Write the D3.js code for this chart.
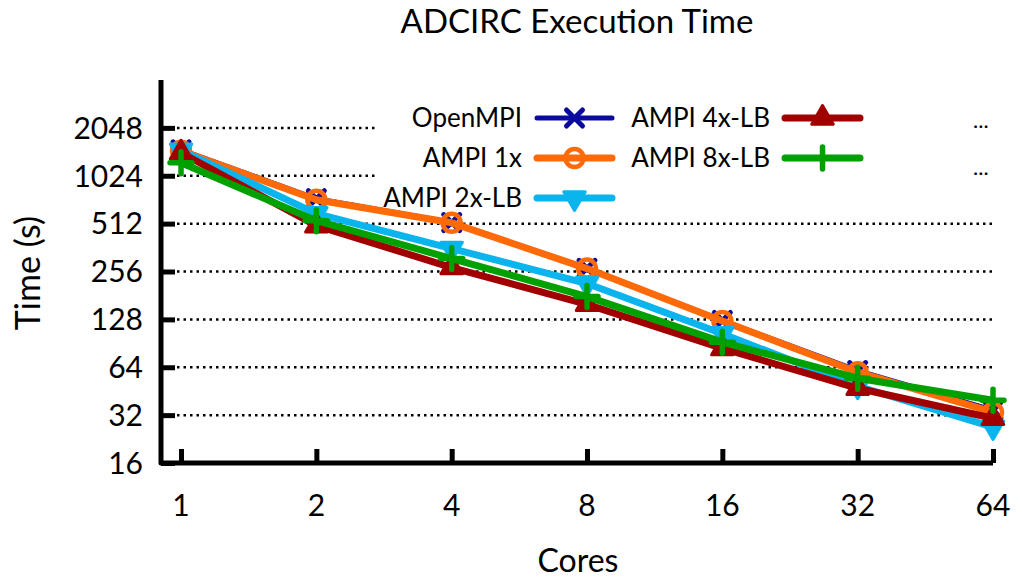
<!DOCTYPE html>
<html>
<head>
<meta charset="utf-8">
<script src="https://cdn.jsdelivr.net/npm/d3@7"></script>
<style>
  body { margin: 0; background: #fff; }
  text { font-family: Lato, "Open Sans", sans-serif; fill: #000; }
</style>
</head>
<body>
<script>
const width = 1019;
const height = 582;

const margin = { left: 161, right: 26, top: 80, bottom: 119 };

// data
const cores = [1, 2, 4, 8, 16, 32, 64];
const yTicks = [16, 32, 64, 128, 256, 512, 1024, 2048];

const openmpi = [1490, 734, 520, 268, 126, 61, 34.4];
const ampi1x = [1470, 724, 518, 267, 125, 59.6, 33.4];
const ampi2x = [1480, 592, 357, 215, 104, 48.6, 26.9];
const ampi4x = [1428, 497, 271, 159, 84, 47.2, 30.6];
const ampi8x = [1235, 534, 309, 178, 92, 54.6, 39.7];

const seriesNames = ["OpenMPI", "AMPI 1x", "AMPI 2x-LB", "AMPI 4x-LB", "AMPI 8x-LB"];
const seriesValues = [openmpi, ampi1x, ampi2x, ampi4x, ampi8x];
const colors = ["#0a0a9e", "#ff6a08", "#0ab4ec", "#a00000", "#00a000"];
const markers = ["cross", "circle", "down", "up", "plus"];

const series = seriesNames.map((name, i) => ({
    name: name,
    color: colors[i],
    marker: markers[i],
    values: cores.map((c, j) => ({ x: c, y: seriesValues[i][j] }))
}));

let svg = d3.select("body").append("svg")
    .attr("width", width)
    .attr("height", height);

let xScale = d3.scaleLog().base(2)
    .domain([Math.pow(2, -0.148), 64])
    .range([margin.left, width - margin.right]);

let yScale = d3.scaleLog().base(2)
    .domain([16, 4096])
    .range([height - margin.bottom, margin.top]);

const x0 = margin.left;
const yBase = height - margin.bottom;

// title
svg.append("text")
    .attr("x", 577)
    .attr("y", 33)
    .attr("text-anchor", "middle")
    .style("font-size", "33px")
    .text("ADCIRC Execution Time");

// grid lines
svg.append("g")
    .selectAll("line")
    .data(yTicks.filter(d => d > 16))
    .join("line")
    .attr("x1", x0 + 16)
    .attr("x2", xScale(64))
    .attr("y1", d => yScale(d))
    .attr("y2", d => yScale(d))
    .attr("stroke", "#000")
    .attr("stroke-width", 2.5)
    .attr("stroke-dasharray", "2.5,4");

// legend background hides the grid behind the key
let legend = svg.append("g");
legend.append("rect")
    .attr("x", 377)
    .attr("y", 98)
    .attr("width", 630)
    .attr("height", 100)
    .attr("fill", "#fff");

// y axis
let yAxis = svg.append("g")
    .attr("transform", `translate(${x0},0)`)
    .call(d3.axisRight(yScale).tickValues(yTicks).tickSize(14).tickFormat(""));
yAxis.select(".domain").remove();
yAxis.selectAll("line").attr("stroke-width", 5);

svg.append("g")
    .selectAll("text")
    .data(yTicks)
    .join("text")
    .attr("x", 143)
    .attr("y", d => yScale(d))
    .attr("dy", "0.36em")
    .attr("text-anchor", "end")
    .style("font-size", "30px")
    .text(d => d);

// x axis
let xAxis = svg.append("g")
    .attr("transform", `translate(0,${yBase})`)
    .call(d3.axisTop(xScale).tickValues(cores).tickSize(14).tickFormat(""));
xAxis.select(".domain").remove();
xAxis.selectAll("line").attr("stroke-width", 5);

svg.append("g")
    .selectAll("text")
    .data(cores)
    .join("text")
    .attr("x", d => xScale(d))
    .attr("y", 516)
    .attr("text-anchor", "middle")
    .style("font-size", "30px")
    .text(d => d);

// axis border lines
svg.append("path")
    .attr("d", `M${x0},${margin.top}V${yBase}H${xScale(64)}`)
    .attr("fill", "none")
    .attr("stroke", "#000")
    .attr("stroke-width", 5)
    .attr("stroke-linejoin", "round");

svg.append("text")
    .attr("x", 578)
    .attr("y", 572)
    .attr("text-anchor", "middle")
    .style("font-size", "32px")
    .text("Cores");

svg.append("text")
    .attr("transform", "translate(40,273) rotate(-90)")
    .attr("text-anchor", "middle")
    .style("font-size", "34px")
    .text("Time (s)");

// marker drawing
function drawMarker(g, type, color) {
    if (type === "cross") {
        g.append("path").attr("d", "M-8,-8L8,8M-8,8L8,-8")
            .attr("stroke", color).attr("stroke-width", 5).attr("stroke-linecap", "round");
    } else if (type === "circle") {
        g.append("circle").attr("r", 9)
            .attr("fill", "none").attr("stroke", color).attr("stroke-width", 4.5);
    } else if (type === "down") {
        g.append("path").attr("d", d3.symbol(d3.symbolTriangle, 200)())
            .attr("transform", "rotate(180)")
            .attr("fill", color).attr("stroke", color).attr("stroke-width", 3).attr("stroke-linejoin", "round");
    } else if (type === "up") {
        g.append("path").attr("d", d3.symbol(d3.symbolTriangle, 200)())
            .attr("fill", color).attr("stroke", color).attr("stroke-width", 3).attr("stroke-linejoin", "round");
    } else if (type === "plus") {
        g.append("path").attr("d", "M-11,0H11M0,-11V11")
            .attr("stroke", color).attr("stroke-width", 5.5).attr("stroke-linecap", "round");
    }
}

let line = d3.line()
    .x(d => xScale(d.x))
    .y(d => yScale(d.y));

series.forEach(s => {
    let g = svg.append("g");
    g.append("path")
        .datum(s.values)
        .attr("d", line)
        .attr("fill", "none")
        .attr("stroke", s.color)
        .attr("stroke-width", s.marker === "cross" ? 5 : 7)
        .attr("stroke-linejoin", "round");
    s.values.forEach(d => {
        let m = g.append("g").attr("transform", `translate(${xScale(d.x)},${yScale(d.y)})`);
        drawMarker(m, s.marker, s.color);
    });
});

// legend entries
let keys = svg.append("g");
const legendCols = [{ textX: 522, lineX1: 537, lineX2: 612 }, { textX: 770, lineX1: 785, lineX2: 860 }];
series.forEach((s, i) => {
    let col = legendCols[Math.floor(i / 3)];
    let y = 118 + (i % 3) * 40;
    keys.append("text")
        .attr("x", col.textX)
        .attr("y", y)
        .attr("dy", "0.36em")
        .attr("text-anchor", "end")
        .style("font-size", "26px")
        .text(s.name);
    keys.append("line")
        .attr("x1", col.lineX1)
        .attr("x2", col.lineX2)
        .attr("y1", y)
        .attr("y2", y)
        .attr("stroke", s.color)
        .attr("stroke-width", s.marker === "cross" ? 5 : 7)
        .attr("stroke-linecap", "round");
    let m = keys.append("g").attr("transform", `translate(${(col.lineX1 + col.lineX2) / 2},${y})`);
    drawMarker(m, s.marker, s.color);
});

keys.selectAll(".more")
    .data([128, 175])
    .join("text")
    .attr("class", "more")
    .attr("x", 973)
    .attr("y", d => d)
    .style("font-size", "22px")
    .text("...");
</script>
</body>
</html>
